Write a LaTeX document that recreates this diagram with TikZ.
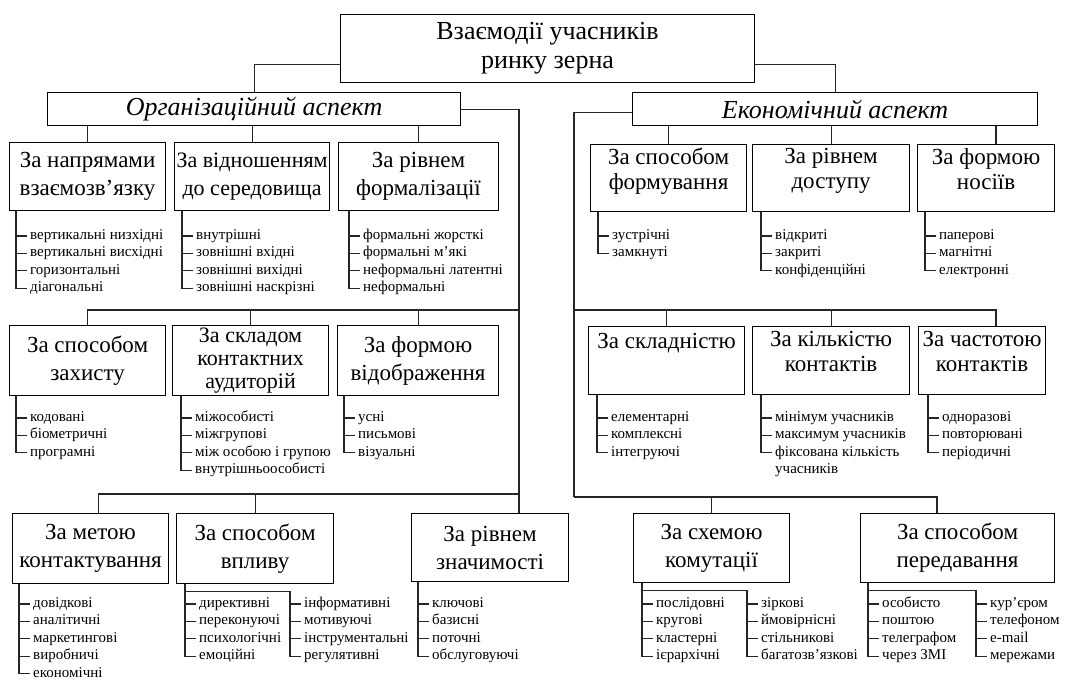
\documentclass[tikz,border=0pt]{standalone}
\usepackage{fontspec}
\setmainfont{Liberation Serif}
\usetikzlibrary{positioning}

\begin{document}
\begin{tikzpicture}[x=1pt, y=-1pt]
%\draw[very thin, color = gray](0, 0) grid (1065, 681);
\useasboundingbox (0, 0) rectangle (1065, 681);
\tikzstyle{block} = [draw, line width=1.1pt, rectangle, anchor=north west,
  align=center, inner sep=0pt, minimum height=68pt,
  font=\fontsize{23}{28}\selectfont];
\tikzstyle{aspect} = [block, minimum height=33pt, font=\fontsize{26}{28}\selectfont\itshape];
\tikzstyle{raised} = [text depth=19pt, font=\fontsize{23}{25}\selectfont]
\tikzstyle{line} = [draw, line width=1.1pt, black!85]
\tikzstyle{leaf} = [anchor=west, inner xsep=3pt, inner ysep=0pt,
  text height=12pt, text depth=5pt, font=\fontsize{15}{17}\selectfont];
\tikzset{leafbelow/.style={leaf, below=0pt of #1.south west, anchor=north west}}

% top level
\node [block, minimum width=414pt, font=\fontsize{26}{29}\selectfont] at (340, 14) (top) {Взаємодії учасників\\ринку зерна};
\node [aspect, minimum width=413pt] at (47, 92) (org) {Організаційний аспект};
\node [aspect, minimum width=405pt] at (632, 92) (eco) {Економічний аспект};

% organizational side
\node [block, minimum width=156pt] at (9, 142) (L1) {За напрямами\\взаємозв’язку};
\node [block, minimum width=155pt, font=\fontsize{22}{28}\selectfont] at (174, 142) (L2) {За відношенням\\до середовища};
\node [block, minimum width=160pt] at (338, 142) (L3) {За рівнем\\формалізації};
\node [block, minimum width=156pt, minimum height=70pt] at (9, 325) (L4) {За способом\\захисту};
\node [block, minimum width=156pt, minimum height=70pt, font=\fontsize{22}{23}\selectfont] at (172, 325) (L5) {За складом\\контактних\\аудиторій};
\node [block, minimum width=161pt, minimum height=70pt] at (337, 325) (L6) {За формою\\відображення};
\node [block, minimum width=156pt, minimum height=70pt] at (12, 513) (L7) {За метою\\контактування};
\node [block, minimum width=157pt, minimum height=70pt] at (176, 513) (L8) {За способом\\впливу};
\node [block, minimum width=157pt] at (411, 513) (L9) {За рівнем\\значимості};

% economic side
\node [block, raised, minimum width=156pt, minimum height=67pt] at (590, 144) (R1) {За способом\\формування};
\node [block, raised, minimum width=157pt, minimum height=67pt] at (752, 144) (R2) {За рівнем\\доступу};
\node [block, raised, minimum width=137pt, minimum height=67pt] at (917, 144) (R3) {За формою\\носіїв};
\node [block, raised, text depth=40pt, minimum width=156pt] at (588, 326) (R4) {За складністю};
\node [block, raised, minimum width=157pt] at (752, 326) (R5) {За кількістю\\контактів};
\node [block, raised, minimum width=127pt] at (918, 326) (R6) {За частотою\\контактів};
\node [block, minimum width=156pt, minimum height=69pt] at (633, 513) (R7) {За схемою\\комутації};
\node [block, minimum width=194pt, minimum height=69pt] at (860, 513) (R8) {За способом\\передавання};

% buses
\coordinate (os) at (519, 310);
\coordinate (os2) at (519, 494);
\coordinate (es) at (574, 310);
\coordinate (es2) at (574, 497);
\coordinate (ex) at (996, 310);
\coordinate (ex2) at (937, 497);

\path [line] (top.south west) ++(0, -19) -| (org.north);
\path [line] (top.south east) ++(0, -19) -| (eco.north);
\path [line] (org.east) -| (L9.north -| os);
\path [line] (L1.north) -- (L1.north |- org.south);
\path [line] (L2.north) -- (L2.north |- org.south);
\path [line] (L3.north) -- (L3.north |- org.south);
\path [line] (L4.north) |- (os);
\path [line] (L5.north) -- (L5.north |- os);
\path [line] (L6.north) -- (L6.north |- os);
\path [line] ([xshift=8pt]L7.north) |- (os2);
\path [line] (L8.north) -- (L8.north |- os2);

\path [line] (eco.west) ++(0, 3) -| (es2);
\path [line] (R1.north) -- (R1.north |- eco.south);
\path [line] (R2.north) -- (R2.north |- eco.south);
\path [line] (eco.south -| ex) -- (R3.north -| ex);
\path [line] (es) -| (R6.north -| ex);
\path [line] (R4.north) -- (R4.north |- es);
\path [line] (R5.north) -- (R5.north |- es);
\path [line] (es2) -| (R8.north -| ex2);
\path [line] (R7.north) -- (R7.north |- es2);

% leaves, organizational side
\node [leaf] at (27, 236) (l1a) {вертикальні низхідні};
\node [leafbelow=l1a] (l1b) {вертикальні висхідні};
\node [leafbelow=l1b] (l1c) {горизонтальні};
\node [leafbelow=l1c] (l1d) {діагональні};
\path [line] (L1.south -| l1a.west) ++(-11, 0) |- (l1d.west)
  (l1a.west) -- ++(-11, 0) (l1b.west) -- ++(-11, 0) (l1c.west) -- ++(-11, 0);

\node [leaf] at (193, 236) (l2a) {внутрішні};
\node [leafbelow=l2a] (l2b) {зовнішні вхідні};
\node [leafbelow=l2b] (l2c) {зовнішні вихідні};
\node [leafbelow=l2c] (l2d) {зовнішні наскрізні};
\path [line] (L2.south -| l2a.west) ++(-11, 0) |- (l2d.west)
  (l2a.west) -- ++(-11, 0) (l2b.west) -- ++(-11, 0) (l2c.west) -- ++(-11, 0);

\node [leaf] at (360, 236) (l3a) {формальні жорсткі};
\node [leafbelow=l3a] (l3b) {формальні м’які};
\node [leafbelow=l3b] (l3c) {неформальні латентні};
\node [leafbelow=l3c] (l3d) {неформальні};
\path [line] (L3.south -| l3a.west) ++(-11, 0) |- (l3d.west)
  (l3a.west) -- ++(-11, 0) (l3b.west) -- ++(-11, 0) (l3c.west) -- ++(-11, 0);

\node [leaf] at (27, 418) (l4a) {кодовані};
\node [leafbelow=l4a] (l4b) {біометричні};
\node [leafbelow=l4b] (l4c) {програмні};
\path [line] (L4.south -| l4a.west) ++(-11, 0) |- (l4c.west)
  (l4a.west) -- ++(-11, 0) (l4b.west) -- ++(-11, 0);

\node [leaf] at (192, 418) (l5a) {міжособисті};
\node [leafbelow=l5a] (l5b) {міжгрупові};
\node [leafbelow=l5b] (l5c) {між особою і групою};
\node [leafbelow=l5c] (l5d) {внутрішньоособисті};
\path [line] (L5.south -| l5a.west) ++(-11, 0) |- (l5d.west)
  (l5a.west) -- ++(-11, 0) (l5b.west) -- ++(-11, 0) (l5c.west) -- ++(-11, 0);

\node [leaf] at (355, 418) (l6a) {усні};
\node [leafbelow=l6a] (l6b) {письмові};
\node [leafbelow=l6b] (l6c) {візуальні};
\path [line] (L6.south -| l6a.west) ++(-11, 0) |- (l6c.west)
  (l6a.west) -- ++(-11, 0) (l6b.west) -- ++(-11, 0);

\node [leaf] at (30, 604) (l7a) {довідкові};
\node [leafbelow=l7a] (l7b) {аналітичні};
\node [leafbelow=l7b] (l7c) {маркетингові};
\node [leafbelow=l7c] (l7d) {виробничі};
\node [leafbelow=l7d] (l7e) {економічні};
\path [line] (L7.south -| l7a.west) ++(-11, 0) |- (l7e.west)
  (l7a.west) -- ++(-11, 0) (l7b.west) -- ++(-11, 0) (l7c.west) -- ++(-11, 0)
  (l7d.west) -- ++(-11, 0);

\node [leaf] at (196, 604) (l8a) {директивні};
\node [leafbelow=l8a] (l8b) {переконуючі};
\node [leafbelow=l8b] (l8c) {психологічні};
\node [leafbelow=l8c] (l8d) {емоційні};
\node [leaf] at (301, 604) (l8e) {інформативні};
\node [leafbelow=l8e] (l8f) {мотивуючі};
\node [leafbelow=l8f] (l8g) {інструментальні};
\node [leafbelow=l8g] (l8h) {регулятивні};
\path [line] (L8.south -| l8a.west) ++(-11, 0) |- (l8d.west)
  (l8a.west) -- ++(-11, 0) (l8b.west) -- ++(-11, 0) (l8c.west) -- ++(-11, 0);
\path [line] (L8.south -| l8a.west) ++(-11, 7) -| ([xshift=-11pt]l8h.west) -- (l8h.west)
  (l8e.west) -- ++(-11, 0) (l8f.west) -- ++(-11, 0) (l8g.west) -- ++(-11, 0);

\node [leaf] at (429, 604) (l9a) {ключові};
\node [leafbelow=l9a] (l9b) {базисні};
\node [leafbelow=l9b] (l9c) {поточні};
\node [leafbelow=l9c] (l9d) {обслуговуючі};
\path [line] (L9.south -| l9a.west) ++(-11, 0) |- (l9d.west)
  (l9a.west) -- ++(-11, 0) (l9b.west) -- ++(-11, 0) (l9c.west) -- ++(-11, 0);

% leaves, economic side
\node [leaf] at (609, 236) (r1a) {зустрічні};
\node [leafbelow=r1a] (r1b) {замкнуті};
\path [line] (R1.south -| r1a.west) ++(-11, 0) |- (r1b.west)
  (r1a.west) -- ++(-11, 0);

\node [leaf] at (772, 236) (r2a) {відкриті};
\node [leafbelow=r2a] (r2b) {закриті};
\node [leafbelow=r2b] (r2c) {конфіденційні};
\path [line] (R2.south -| r2a.west) ++(-11, 0) |- (r2c.west)
  (r2a.west) -- ++(-11, 0) (r2b.west) -- ++(-11, 0);

\node [leaf] at (936, 236) (r3a) {паперові};
\node [leafbelow=r3a] (r3b) {магнітні};
\node [leafbelow=r3b] (r3c) {електронні};
\path [line] (R3.south -| r3a.west) ++(-11, 0) |- (r3c.west)
  (r3a.west) -- ++(-11, 0) (r3b.west) -- ++(-11, 0);

\node [leaf] at (608, 418) (r4a) {елементарні};
\node [leafbelow=r4a] (r4b) {комплексні};
\node [leafbelow=r4b] (r4c) {інтегруючі};
\path [line] (R4.south -| r4a.west) ++(-11, 0) |- (r4c.west)
  (r4a.west) -- ++(-11, 0) (r4b.west) -- ++(-11, 0);

\node [leaf] at (772, 418) (r5a) {мінімум учасників};
\node [leafbelow=r5a] (r5b) {максимум учасників};
\node [leafbelow=r5b] (r5c) {фіксована кількість};
\node [leafbelow=r5c] (r5d) {учасників};
\path [line] (R5.south -| r5a.west) ++(-11, 0) |- (r5c.west)
  (r5a.west) -- ++(-11, 0) (r5b.west) -- ++(-11, 0);

\node [leaf] at (939, 418) (r6a) {одноразові};
\node [leafbelow=r6a] (r6b) {повторювані};
\node [leafbelow=r6b] (r6c) {періодичні};
\path [line] (R6.south -| r6a.west) ++(-11, 0) |- (r6c.west)
  (r6a.west) -- ++(-11, 0) (r6b.west) -- ++(-11, 0);

\node [leaf] at (653, 604) (r7a) {послідовні};
\node [leafbelow=r7a] (r7b) {кругові};
\node [leafbelow=r7b] (r7c) {кластерні};
\node [leafbelow=r7c] (r7d) {ієрархічні};
\node [leaf] at (758, 604) (r7e) {зіркові};
\node [leafbelow=r7e] (r7f) {ймовірнісні};
\node [leafbelow=r7f] (r7g) {стільникові};
\node [leafbelow=r7g] (r7h) {багатозв’язкові};
\path [line] (R7.south -| r7a.west) ++(-11, 0) |- (r7d.west)
  (r7a.west) -- ++(-11, 0) (r7b.west) -- ++(-11, 0) (r7c.west) -- ++(-11, 0);
\path [line] (R7.south -| r7a.west) ++(-11, 7) -| ([xshift=-11pt]r7h.west) -- (r7h.west)
  (r7e.west) -- ++(-11, 0) (r7f.west) -- ++(-11, 0) (r7g.west) -- ++(-11, 0);

\node [leaf] at (879, 604) (r8a) {особисто};
\node [leafbelow=r8a] (r8b) {поштою};
\node [leafbelow=r8b] (r8c) {телеграфом};
\node [leafbelow=r8c] (r8d) {через ЗМІ};
\node [leaf] at (987, 604) (r8e) {кур’єром};
\node [leafbelow=r8e] (r8f) {телефоном};
\node [leafbelow=r8f] (r8g) {e-mail};
\node [leafbelow=r8g] (r8h) {мережами};
\path [line] (R8.south -| r8a.west) ++(-11, 0) |- (r8d.west)
  (r8a.west) -- ++(-11, 0) (r8b.west) -- ++(-11, 0) (r8c.west) -- ++(-11, 0);
\path [line] (R8.south -| r8a.west) ++(-11, 7) -| ([xshift=-11pt]r8h.west) -- (r8h.west)
  (r8e.west) -- ++(-11, 0) (r8f.west) -- ++(-11, 0) (r8g.west) -- ++(-11, 0);
\end{tikzpicture}
\end{document}
